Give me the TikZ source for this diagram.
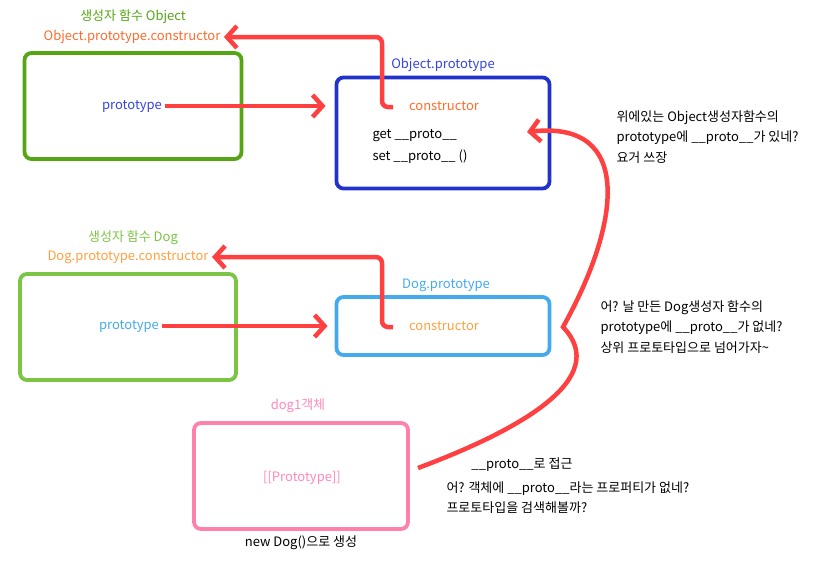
\documentclass[tikz,border=0pt]{standalone}
\usepackage{fontspec}
\setmainfont{Noto Sans CJK KR}
\usetikzlibrary{arrows.meta}
\definecolor{linkred}{HTML}{FF4040}
\definecolor{objgreen}{HTML}{55A514}
\definecolor{doggreen}{HTML}{7CC444}
\definecolor{objblue}{HTML}{2233CC}
\definecolor{objbluetxt}{HTML}{3344DD}
\definecolor{dogblue}{HTML}{44AAEE}
\definecolor{pinkbox}{HTML}{FF80AA}
\definecolor{pinktxt}{HTML}{FF88BB}
\definecolor{orangeA}{HTML}{FF6B2B}
\definecolor{orangeB}{HTML}{FFA040}
\begin{document}
\begin{tikzpicture}[x=1pt,y=-1pt,font=\fontsize{13}{15}\selectfont,
  box/.style={draw=#1, line width=3.8pt, rounded corners=7pt, inner sep=0pt},
  conn/.style={draw=linkred, line width=4.5pt, rounded corners=6pt,
    -{Straight Barb[length=10pt,width=22pt]}},
  note/.style={anchor=west, align=left, text=black, font=\fontsize{13}{20.5}\selectfont}]
\useasboundingbox (0,0) rectangle (828,566);
% boxes
\node[box=objgreen, minimum width=217pt, minimum height=106pt] (objfn) at (133,106) {};
\node[box=objblue, minimum width=213pt, minimum height=111pt] (objproto) at (443,133) {};
\node[box=doggreen, minimum width=216pt, minimum height=106pt] (dogfn) at (128,327) {};
\node[box=dogblue, minimum width=213pt, minimum height=58pt] (dogproto) at (443,326) {};
\node[box=pinkbox, minimum width=214pt, minimum height=106pt] (dog1) at (301,476) {};
% titles
\node[text=objgreen] (objtitle) at (133,17) {생성자 함수 Object};
\node[text=orangeA] (objctor) at (132,37) {Object.prototype.constructor};
\node[text=objbluetxt] (objprototitle) at (443,65) {Object.prototype};
\node[text=doggreen] (dogtitle) at (133,238) {생성자 함수 Dog};
\node[text=orangeB] (dogctor) at (128,257) {Dog.prototype.constructor};
\node[text=dogblue] (dogprototitle) at (446,285) {Dog.prototype};
\node[text=pinktxt] (dog1title) at (298,406) {dog1객체};
\node[text=black] (dog1new) at (301,543) {new Dog()으로 생성};
% contents
\node[text=objbluetxt] (objprop) at (132,106) {prototype};
\node[text=orangeA] (objprotoctor) at (444,106) {constructor};
\node[anchor=west, align=left, font=\fontsize{13}{22}\selectfont] (getset) at (369,146) {get \_\_proto\_\_\\set \_\_proto\_\_ ()};
\node[text=dogblue] (dogprop) at (129,326) {prototype};
\node[text=orangeB] (dogprotoctor) at (444,326) {constructor};
\node[text=pinktxt] (dog1slot) at (302,478) {[[Prototype]]};
% notes
\node[note] (note1) at (613,137) {위에있는 Object생성자함수의\\prototype에 \_\_proto\_\_가 있네?\\요거 쓰장};
\node[note] (note2) at (597,327) {어? 날 만든 Dog생성자 함수의\\prototype에 \_\_proto\_\_가 없네?\\상위 프로토타입으로 넘어가자\char`~};
\node (note3) at (522,465) {\_\_proto\_\_로 접근};
\node[note, font=\fontsize{13}{20}\selectfont] (note4) at (443,498) {어? 객체에 \_\_proto\_\_라는 프로퍼티가 없네?\\프로토타입을 검색해볼까?};
% connectors
\draw[conn] (objprop.east) -- ([xshift=-9pt]objprop.east -| objproto.west);
\draw[conn] (dogprop.east) -- ([xshift=-7pt]dogprop.east -| dogproto.west);
\coordinate (oc0) at (393,107);
\coordinate (oc1) at (382,107);
\coordinate (oc2) at (382,37);
\draw[conn] (oc0) -- (oc1) -- (oc2) -- (objctor.east);
\coordinate (dc0) at (393,327);
\coordinate (dc1) at (382,327);
\coordinate (dc2) at (382,257);
\draw[conn] (dc0) -- (dc1) -- (dc2) -- (dogctor.east);
\coordinate (cs) at (418,468);
\coordinate (ck) at (563,327);
\coordinate (ce) at (527,132);
\draw[draw=linkred, line width=4.5pt, -{Straight Barb[length=10pt,width=22pt]}]
  (cs) .. controls (520,430) and (612,378) .. (ck)
  .. controls (620,225) and (635,120) .. (ce);
\end{tikzpicture}
\end{document}
